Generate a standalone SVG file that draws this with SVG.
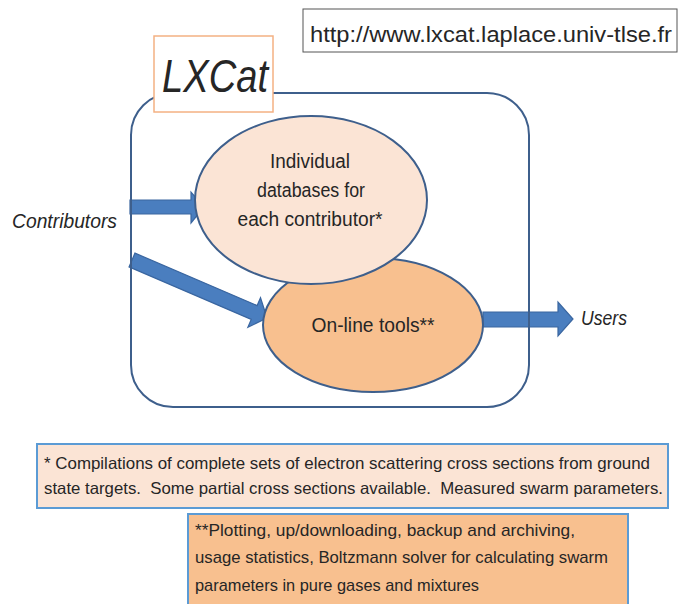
<svg xmlns="http://www.w3.org/2000/svg" width="679" height="604" viewBox="0 0 679 604">
<style>
text{font-family:"Liberation Sans",Arial,sans-serif;fill:#262626}
.it{font-style:italic}
.arrow{fill:#4a7ebf;stroke:#3a66a0;stroke-width:1.2;stroke-linejoin:miter}
.el{stroke:#3e5f8c;stroke-width:2}
.note{stroke:#5b9bd5;stroke-width:2}
.pre{white-space:pre}
</style>
<rect width="679" height="604" fill="#ffffff"/>
<g id="url">
<rect x="303" y="9" width="374" height="43" fill="#ffffff" stroke="#555" stroke-width="1"/>
<text x="310" y="42" font-size="22" textLength="362" lengthAdjust="spacingAndGlyphs">http://www.lxcat.laplace.univ-tlse.fr</text>
</g>
<g id="connectors">
<polygon class="arrow" points="130,200 191,200 191,192 204,207 191,223 191,214 130,214"/>
<polygon class="arrow" transform="translate(132,260) rotate(23.25)" points="0,-7.5 133,-7.5 133,-16 147,0 133,16 133,7.5 0,7.5"/>
<polygon class="arrow" points="483,312 558,312 558,302 573,319 558,336 558,327 483,327"/>
</g>
<g id="lxcat-frame">
<rect x="131" y="93" width="398" height="314" rx="42" ry="42" fill="none" stroke="#3e5f8c" stroke-width="2"/>
</g>
<g id="online-tools">
<ellipse class="el" cx="373" cy="325" rx="110" ry="67" fill="#f8c08f"/>
<text x="373" y="332" font-size="20" text-anchor="middle" textLength="123" lengthAdjust="spacingAndGlyphs">On-line tools**</text>
</g>
<g id="databases">
<ellipse class="el" cx="311" cy="200" rx="116" ry="84" fill="#fbe4d5"/>
<text x="310" y="168" font-size="20" text-anchor="middle" textLength="80" lengthAdjust="spacingAndGlyphs">Individual</text>
<text x="311" y="197" font-size="20" text-anchor="middle" textLength="108" lengthAdjust="spacingAndGlyphs">databases for</text>
<text x="310" y="226" font-size="20" text-anchor="middle" textLength="145" lengthAdjust="spacingAndGlyphs">each contributor*</text>
</g>
<g id="lxcat-title">
<rect x="154" y="36" width="119" height="76" fill="#ffffff" stroke="#f4b183" stroke-width="1.5"/>
<text class="it" x="162" y="92" font-size="46" textLength="106" lengthAdjust="spacingAndGlyphs">LXCat</text>
</g>
<g id="contributors">
<text class="it" x="12" y="228" font-size="20" textLength="105" lengthAdjust="spacingAndGlyphs">Contributors</text>
</g>
<g id="users">
<text class="it" x="581" y="325" font-size="20" textLength="46" lengthAdjust="spacingAndGlyphs">Users</text>
</g>
<g id="note1">
<rect class="note" x="37" y="444" width="631" height="64" fill="#fbe4d5"/>
<text class="pre" x="44" y="469" font-size="16.5" textLength="606" lengthAdjust="spacingAndGlyphs">* Compilations of complete sets of electron scattering cross sections from ground</text>
<text class="pre" x="44" y="494" font-size="16.5" textLength="619" lengthAdjust="spacingAndGlyphs">state targets.  Some partial cross sections available.  Measured swarm parameters.</text>
</g>
<g id="note2">
<rect class="note" x="188" y="514" width="440" height="95" fill="#f8c08f"/>
<text x="195" y="536" font-size="17" textLength="380" lengthAdjust="spacingAndGlyphs">**Plotting, up/downloading, backup and archiving,</text>
<text x="195" y="563" font-size="17" textLength="413" lengthAdjust="spacingAndGlyphs">usage statistics, Boltzmann solver for calculating swarm</text>
<text x="195" y="591" font-size="17" textLength="284" lengthAdjust="spacingAndGlyphs">parameters in pure gases and mixtures</text>
</g>
</svg>
